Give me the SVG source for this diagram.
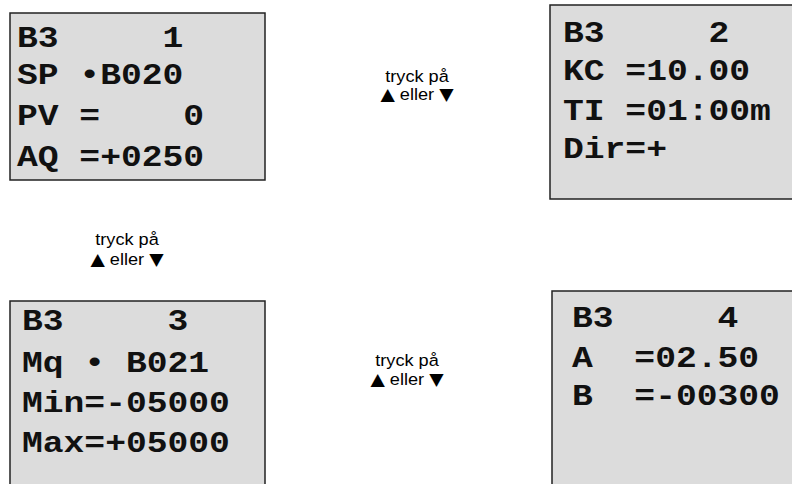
<svg xmlns="http://www.w3.org/2000/svg" width="792" height="484" viewBox="0 0 792 484">
<style>
.box{fill:#dcdcdc;stroke:#222;stroke-width:1.5}
.lcd{font-family:"Liberation Mono","Courier New",monospace;font-weight:bold;font-size:29px;fill:#111}
.lbl{font-family:"Liberation Sans",Arial,sans-serif;font-size:16.5px;fill:#000;text-anchor:middle}
.tri{font-family:"DejaVu Sans",sans-serif;font-size:17px}
</style>
<g id="screen1">
<rect class="box" x="10" y="13" width="255" height="167"/>
<g transform="translate(17,0) scale(1.195,1)">
<text class="lcd" x="0" y="47" xml:space="preserve">B3     1</text>
<text class="lcd" x="0" y="84" xml:space="preserve">SP •B020</text>
<text class="lcd" x="0" y="125" xml:space="preserve">PV =    0</text>
<text class="lcd" x="0" y="166" xml:space="preserve">AQ =+0250</text>
</g>
</g>
<g id="screen2">
<rect class="box" x="550" y="5" width="250" height="194"/>
<g transform="translate(563,0) scale(1.195,1)">
<text class="lcd" x="0" y="42" xml:space="preserve">B3     2</text>
<text class="lcd" x="0" y="80" xml:space="preserve">KC =10.00</text>
<text class="lcd" x="0" y="120" xml:space="preserve">TI =01:00m</text>
<text class="lcd" x="0" y="158" xml:space="preserve">Dir=+</text>
</g>
</g>
<g id="screen3">
<rect class="box" x="10" y="301" width="255" height="200"/>
<g transform="translate(22,0) scale(1.195,1)">
<text class="lcd" x="0" y="330" xml:space="preserve">B3     3</text>
<text class="lcd" x="0" y="372" xml:space="preserve">Mq • B021</text>
<text class="lcd" x="0" y="412" xml:space="preserve">Min=-05000</text>
<text class="lcd" x="0" y="452" xml:space="preserve">Max=+05000</text>
</g>
</g>
<g id="screen4">
<rect class="box" x="552" y="291" width="250" height="210"/>
<g transform="translate(572,0) scale(1.195,1)">
<text class="lcd" x="0" y="327" xml:space="preserve">B3     4</text>
<text class="lcd" x="0" y="367" xml:space="preserve">A  =02.50</text>
<text class="lcd" x="0" y="405" xml:space="preserve">B  =-00300</text>
</g>
</g>
<g id="connectors">
<g transform="translate(417,0) scale(1.1,1)">
<text class="lbl" x="0" y="82">tryck på</text>
<text class="lbl" x="0" y="100"><tspan class="tri">▲</tspan> eller <tspan class="tri">▼</tspan></text>
</g>
<g transform="translate(127,0) scale(1.1,1)">
<text class="lbl" x="0" y="245">tryck på</text>
<text class="lbl" x="0" y="265"><tspan class="tri">▲</tspan> eller <tspan class="tri">▼</tspan></text>
</g>
<g transform="translate(407,0) scale(1.1,1)">
<text class="lbl" x="0" y="366">tryck på</text>
<text class="lbl" x="0" y="385"><tspan class="tri">▲</tspan> eller <tspan class="tri">▼</tspan></text>
</g>
</g>
</svg>
